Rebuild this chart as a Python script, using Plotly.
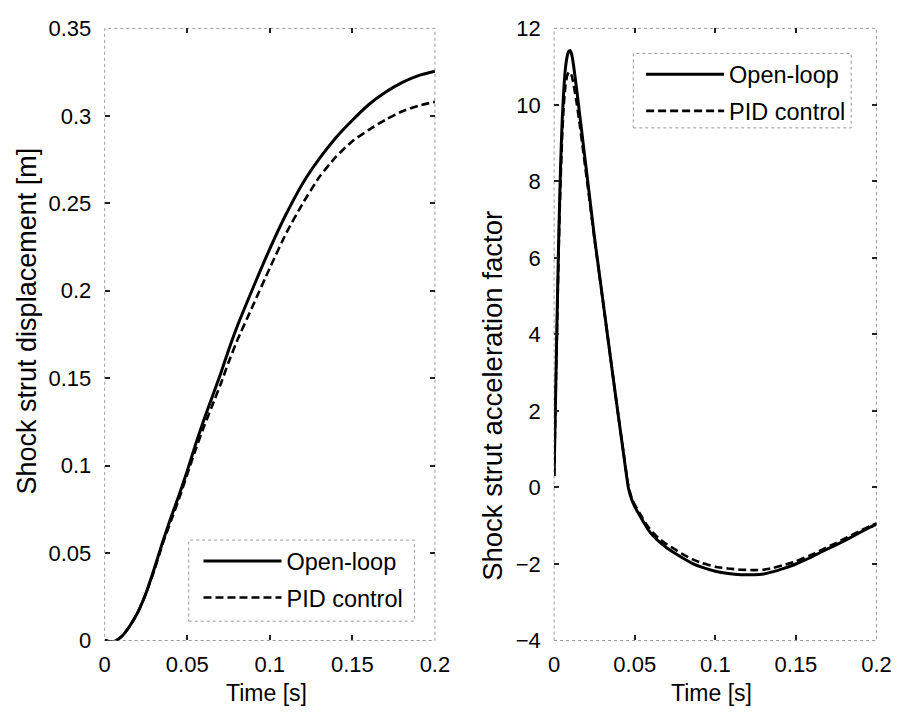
import plotly.graph_objects as go

W, H = 915, 723

# Shock strut displacement [m] versus time [s]
time_disp = [0.0, 0.005, 0.01, 0.015, 0.02, 0.025, 0.03, 0.035, 0.04, 0.045,
             0.05, 0.055, 0.06, 0.065, 0.07, 0.075, 0.08, 0.09, 0.10, 0.11,
             0.12, 0.13, 0.14, 0.15, 0.16, 0.17, 0.18, 0.19, 0.20]
disp_open = [0.0, -0.0008, 0.002, 0.008, 0.016, 0.027, 0.041, 0.056, 0.070, 0.083,
             0.097, 0.112, 0.126, 0.139, 0.152, 0.166, 0.179, 0.202, 0.224, 0.244,
             0.2615, 0.2755, 0.2875, 0.2975, 0.3065, 0.3135, 0.319, 0.323, 0.3255]
disp_pid = [0.0, -0.0008, 0.002, 0.008, 0.016, 0.027, 0.040, 0.055, 0.068, 0.081,
            0.095, 0.109, 0.122, 0.134, 0.146, 0.159, 0.171, 0.192, 0.213, 0.233,
            0.250, 0.265, 0.2765, 0.2855, 0.292, 0.2978, 0.3025, 0.3058, 0.308]

# Shock strut acceleration factor versus time [s]
time_acc = [0.0, 0.001, 0.002, 0.003, 0.004, 0.005, 0.006, 0.007, 0.008, 0.009,
            0.010, 0.011, 0.012, 0.014, 0.016, 0.018, 0.020, 0.022, 0.025, 0.028,
            0.031, 0.034, 0.037, 0.040, 0.043, 0.046, 0.048, 0.050, 0.054, 0.058,
            0.062, 0.066, 0.070, 0.075, 0.080, 0.086, 0.092, 0.100, 0.108, 0.116,
            0.124, 0.130, 0.136, 0.142, 0.150, 0.158, 0.166, 0.174, 0.182, 0.190,
            0.196, 0.200]
acc_open = [0.3, 2.6, 4.8, 6.8, 8.4, 9.6, 10.4, 10.95, 11.25, 11.4,
            11.42, 11.3, 11.05, 10.4, 9.7, 9.0, 8.3, 7.6, 6.55, 5.6,
            4.65, 3.7, 2.75, 1.82, 0.9, 0.0, -0.30, -0.50, -0.80, -1.08,
            -1.29, -1.45, -1.58, -1.72, -1.85, -1.99, -2.09, -2.19, -2.25, -2.28,
            -2.28, -2.26, -2.20, -2.12, -2.00, -1.85, -1.68, -1.52, -1.35, -1.17,
            -1.04, -0.96]
acc_pid = [0.3, 2.5, 4.6, 6.5, 8.0, 9.2, 10.0, 10.5, 10.75, 10.85,
           10.85, 10.75, 10.55, 10.05, 9.45, 8.8, 8.15, 7.5, 6.5, 5.58,
           4.64, 3.7, 2.75, 1.82, 0.92, 0.05, -0.26, -0.45, -0.74, -1.01,
           -1.21, -1.37, -1.49, -1.62, -1.75, -1.88, -1.98, -2.07, -2.12, -2.15,
           -2.16, -2.15, -2.10, -2.03, -1.93, -1.79, -1.63, -1.47, -1.30, -1.13,
           -1.01, -0.94]

time_ticks = [0, 0.05, 0.1, 0.15, 0.2]
disp_ticks = [0, 0.05, 0.1, 0.15, 0.2, 0.25, 0.3, 0.35]
acc_ticks = [-4, -2, 0, 2, 4, 6, 8, 10, 12]

FONT = "Liberation Sans, Arial, Helvetica, sans-serif"
SOLID = dict(color="black", width=3)
DASHED = dict(color="black", width=2.6, dash="8px,4px")
FRAME = dict(color="#9a9a9a", width=1, dash="dot")

fig = go.Figure()
series = [
    (time_disp, disp_open, "Open-loop", SOLID, "x", "y", "legend", 0.6),
    (time_disp, disp_pid, "PID control", DASHED, "x", "y", "legend", 0.6),
    (time_acc, acc_open, "Open-loop", SOLID, "x2", "y2", "legend2", 0.4),
    (time_acc, acc_pid, "PID control", DASHED, "x2", "y2", "legend2", 0.4),
]
for t, v, name, style, xa, ya, lg, sm in series:
    fig.add_trace(go.Scatter(x=t, y=v, mode="lines", name=name,
                             line=dict(style, shape="spline", smoothing=sm),
                             xaxis=xa, yaxis=ya, legend=lg,
                             legendgroup=lg + name))

y_dom = [1 - 651 / H, 1 - 17 / H]
axis_common = dict(
    ticks="inside", ticklen=5, tickwidth=2, tickcolor="#222",
    showline=True, linecolor="rgba(0,0,0,0)", mirror="ticks",
    showgrid=False, zeroline=False,
    tickfont=dict(family=FONT, size=22, color="black"),
)
legend_common = dict(
    xanchor="left", yanchor="top", bgcolor="rgba(0,0,0,0)", borderwidth=0,
    font=dict(family=FONT, size=23.5, color="black"), itemwidth=78,
    traceorder="grouped", tracegroupgap=3,
)

fig.update_layout(
    width=W, height=H, autosize=False,
    margin=dict(l=0, r=0, t=0, b=0),
    paper_bgcolor="white", plot_bgcolor="white",
    font=dict(family=FONT, color="black"),
    xaxis=dict(axis_common, domain=[101 / W, 439 / W], anchor="y",
               range=[0, 0.2], tickvals=time_ticks, ticklabelstandoff=4),
    yaxis=dict(axis_common, domain=y_dom, anchor="x",
               range=[0, 0.35], tickvals=disp_ticks, ticklabelstandoff=8),
    xaxis2=dict(axis_common, domain=[561 / W, 891 / W], anchor="y2",
                range=[0, 0.2], tickvals=time_ticks, ticklabelstandoff=4),
    yaxis2=dict(axis_common, domain=y_dom, anchor="x2",
                range=[-4, 12], tickvals=acc_ticks, ticklabelstandoff=8),
    legend=dict(legend_common, x=197 / W, y=1 - 546 / H),
    legend2=dict(legend_common, x=650 / W, y=1 - 42 / H),
    showlegend=True,
)

# dotted axes frames
for xr, yr in (("x domain", "y domain"), ("x2 domain", "y2 domain")):
    fig.add_shape(type="rect", xref=xr, yref=yr, x0=0, x1=1, y0=0, y1=1,
                  line=FRAME, layer="below")

# dotted legend boxes
for x0, x1, y0, y1 in ((187, 418, 547, 631), (642, 865, 43, 120)):
    fig.add_shape(type="rect", xref="paper", yref="paper",
                  x0=x0 / W, x1=x1 / W, y0=1 - y1 / H, y1=1 - y0 / H,
                  line=FRAME, fillcolor="white", layer="below")

# axis titles
titles = [
    dict(text="Time [s]", x=267 / W, y=1 - 705 / H, textangle=0, size=23),
    dict(text="Time [s]", x=722 / W, y=1 - 705 / H, textangle=0, size=23),
    dict(text="Shock strut displacement [m]", x=21 / W, y=1 - 320 / H, textangle=-90, size=27),
    dict(text="Shock strut acceleration factor", x=498 / W, y=1 - 398 / H, textangle=-90, size=27.5),
]
for t in titles:
    fig.add_annotation(text=t["text"], xref="paper", yref="paper", x=t["x"], y=t["y"],
                       xanchor="center", yanchor="middle", showarrow=False,
                       textangle=t["textangle"],
                       font=dict(family=FONT, size=t["size"], color="black"))

fig.write_html("out.html")
